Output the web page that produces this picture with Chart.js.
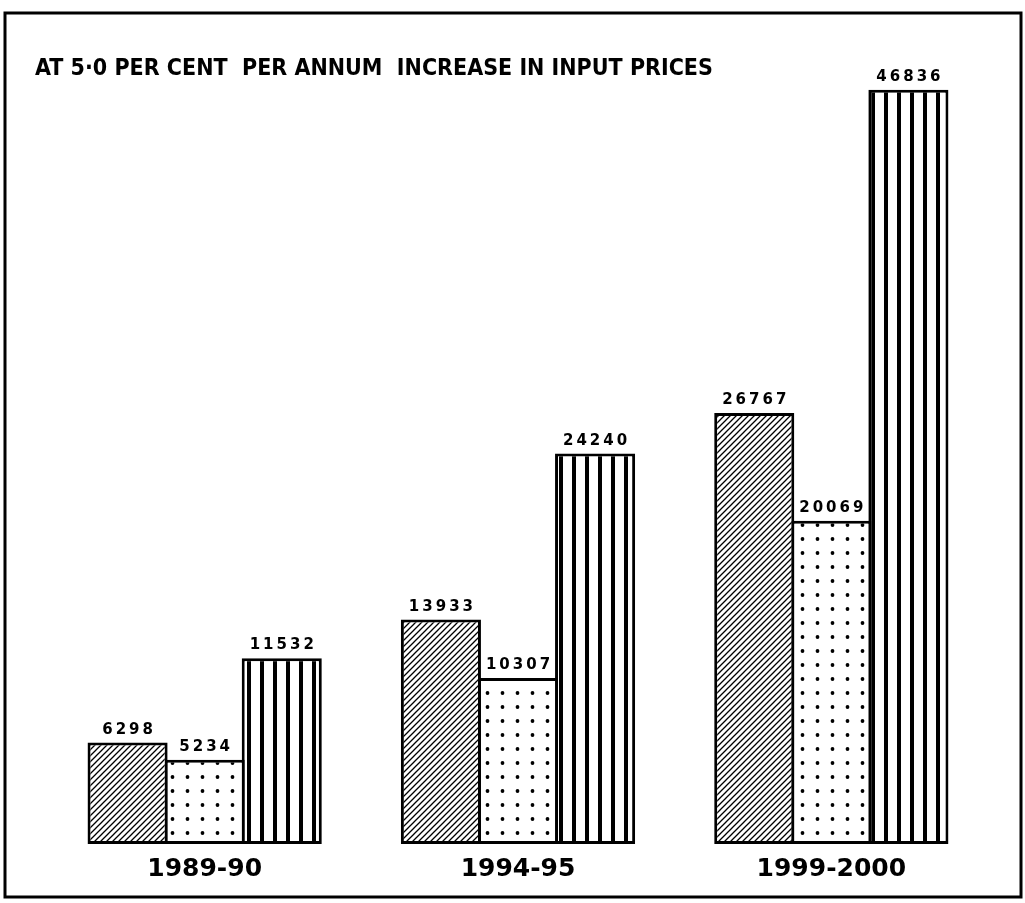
<!DOCTYPE html>
<html>
<head>
<meta charset="utf-8">
<script src="https://cdn.jsdelivr.net/npm/chart.js@4/dist/chart.umd.min.js"></script>
<style>
  html, body { margin: 0; padding: 0; background: #fff; }
  #wrap { width: 1025px; height: 903px; position: relative; }
</style>
</head>
<body>
<div id="wrap"><canvas id="chart"></canvas></div>
<script>
  // ── data ────────────────────────────────────────────────────────────────
  const TITLE = 'AT 5·0 PER CENT  PER ANNUM  INCREASE IN INPUT PRICES';
  const periods = ['1989-90', '1994-95', '1999-2000'];
  const seriesA = [6298, 13933, 26767];   // hatched
  const seriesB = [5234, 10307, 20069];   // dotted
  const seriesC = [11532, 24240, 46836];  // vertical stripes
  const Y_MAX = 47150;

  // ── patterns ────────────────────────────────────────────────────────────
  function makeTile(w, h, draw) {
    const c = document.createElement('canvas');
    c.width = w; c.height = h;
    const g = c.getContext('2d');
    g.fillStyle = '#fff';
    g.fillRect(0, 0, w, h);
    g.fillStyle = '#000';
    g.strokeStyle = '#000';
    draw(g);
    return document.createElement('canvas').getContext('2d').createPattern(c, 'repeat');
  }

  const hatch = makeTile(6, 6, function (g) {
    g.lineWidth = 1.3;
    g.beginPath();
    g.moveTo(0, 6); g.lineTo(6, 0);
    g.moveTo(-2, 2); g.lineTo(2, -2);
    g.moveTo(4, 8); g.lineTo(8, 4);
    g.stroke();
  });

  const dots = makeTile(15, 14, function (g) {
    g.beginPath();
    g.arc(7.5, 7, 1.9, 0, Math.PI * 2);
    g.fill();
  });

  const stripes = makeTile(13, 4, function (g) {
    g.fillRect(0, 0, 4, 4);
  });

  // ── plugins ─────────────────────────────────────────────────────────────
  const frame = {
    id: 'frame',
    beforeDraw: function (chart) {
      const ctx = chart.ctx;
      ctx.save();
      ctx.fillStyle = '#fff';
      ctx.fillRect(0, 0, chart.width, chart.height);
      ctx.strokeStyle = '#000';
      ctx.lineWidth = 3;
      ctx.strokeRect(5, 13, 1016, 884);
      ctx.restore();
    }
  };

  const valueLabels = {
    id: 'valueLabels',
    afterDatasetsDraw: function (chart) {
      const ctx = chart.ctx;
      ctx.save();
      ctx.fillStyle = '#000';
      ctx.font = 'bold 15px "DejaVu Sans"';
      ctx.letterSpacing = '3px';
      ctx.textAlign = 'center';
      ctx.textBaseline = 'alphabetic';
      chart.data.datasets.forEach(function (ds, i) {
        chart.getDatasetMeta(i).data.forEach(function (bar, j) {
          ctx.fillText(String(ds.data[j]), bar.x + 1.5, bar.y - 9);
        });
      });
      ctx.restore();
    }
  };

  // ── chart ───────────────────────────────────────────────────────────────
  function barSet(label, data, fill) {
    return {
      label: label,
      data: data,
      backgroundColor: fill,
      borderColor: '#000',
      borderWidth: 3,
      borderSkipped: false,
      barPercentage: 1.039,
      categoryPercentage: 0.738
    };
  }

  new Chart(document.getElementById('chart'), {
    type: 'bar',
    data: {
      labels: periods,
      datasets: [
        barSet('A', seriesA, hatch),
        barSet('B', seriesB, dots),
        barSet('C', seriesC, stripes)
      ]
    },
    options: {
      responsive: true,
      maintainAspectRatio: false,
      animation: false,
      devicePixelRatio: 1,
      layout: { padding: { left: 35, right: 37, top: 40, bottom: 9 } },
      plugins: {
        legend: { display: false },
        tooltip: { enabled: false },
        title: {
          display: true,
          text: TITLE,
          align: 'start',
          color: '#000',
          font: { family: '"DejaVu Sans Condensed", "DejaVu Sans"', size: 23, weight: 'bold' },
          padding: { top: 15, bottom: 2 }
        }
      },
      scales: {
        x: {
          grid: { display: false, drawTicks: false },
          border: { display: false },
          ticks: {
            color: '#000',
            padding: 10,
            font: { family: '"DejaVu Sans"', size: 25, weight: 'bold' }
          }
        },
        y: {
          min: 0,
          max: Y_MAX,
          grid: { display: false, drawTicks: false },
          border: { display: false },
          ticks: { display: false },
          afterFit: function (scale) { scale.width = 13; }
        }
      }
    },
    plugins: [frame, valueLabels]
  });
</script>
</body>
</html>
